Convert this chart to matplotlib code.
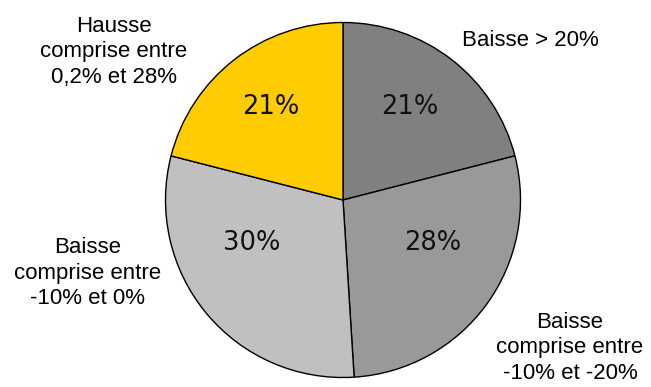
"""Pie chart: distribution of price changes."""

import matplotlib.pyplot as plt

categories = [
    "Baisse > 20%",
    "Baisse\ncomprise entre\n-10% et -20%",
    "Baisse\ncomprise entre\n-10% et 0%",
    "Hausse\ncomprise entre\n0,2% et 28%",
]
shares = [21, 28, 30, 21]
colors = ["#808080", "#999999", "#c0c0c0", "#ffcc00"]

# label anchors in pixel space (x, y from top)
pct_pos = [(410, 107), (433, 243), (252, 243), (271, 107)]
cat_pos = [(530, 41), (570, 348), (88, 273), (114, 52)]

W, H = 651, 387
fig = plt.figure(figsize=(W / 100, H / 100), dpi=100)
ax = fig.add_axes([0, 0, 1, 1])

# pie is drawn in flipped y, so counterclock=True runs clockwise on screen
ax.pie(shares, colors=colors, center=(343, 200), radius=177.5,
       startangle=-90, counterclock=True, frame=True,
       wedgeprops=dict(edgecolor="black", linewidth=1.0))
ax.set_xlim(0, W)
ax.set_ylim(H, 0)
ax.set_aspect("equal")
ax.axis("off")

for v, (x, y) in zip(shares, pct_pos):
    ax.text(x, y, f"{v}%", ha="center", va="center", fontsize=18.5,
            family="DejaVu Sans", color="#111111")

for lab, (x, y) in zip(categories, cat_pos):
    ax.text(x, y, lab, ha="center", va="center", fontsize=16,
            family="Liberation Sans", linespacing=1.3, color="black")

fig.savefig("out.png", dpi=100)
